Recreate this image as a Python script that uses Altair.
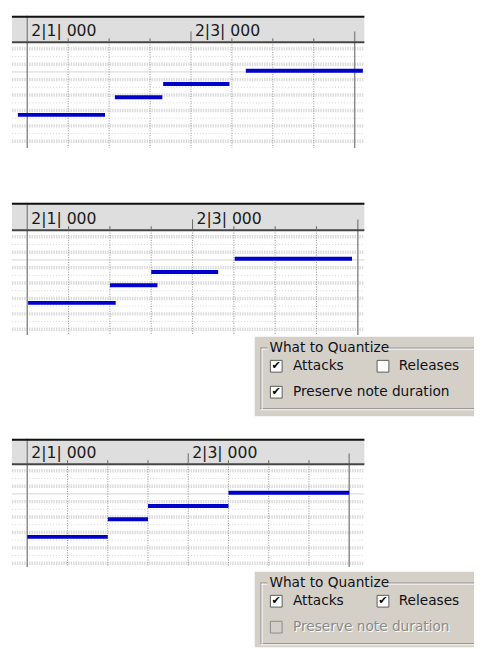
import altair as alt
import pandas as pd

# ---------------- data ----------------
ruler_labels = ["2|1| 000", "2|3| 000"]
ruler_label_at = [0, 4]                  # positions in eighth notes
dotted_grid = [1, 2, 3, 4, 5, 6, 7]
short_ticks = [1, 2, 3, 5, 6, 7]
long_ticks = [4]
note_pitch = [56, 60, 63, 66]
orig_start = [-0.23, 2.14, 3.32, 5.34]
orig_end = [1.90, 3.30, 4.94, 8.20]
attk_start = [0.02, 2.00, 3.00, 5.02]
attk_end = [2.14, 3.15, 4.62, 7.86]
both_start = [0.00, 2.00, 3.00, 5.00]
both_end = [2.00, 3.00, 5.00, 8.00]
black_key_rows = [71, 67.5, 64, 60.5, 57, 53.5, 50]
row_separators = [69.25, 62.25, 58.75, 55.25, 51.75]
octave_line = [65.75]
dialog_title = ["What to Quantize"]
option_labels = ["Attacks", "Releases", "Preserve note duration"]
dlg2_checked = [True, False, True]
dlg2_enabled = [True, True, True]
dlg3_checked = [True, True, False]
dlg3_enabled = [True, True, False]

# ---------------- layout / style ----------------
FONT = "DejaVu Sans"
PW = 360
SEMI = 4.5
BG = "#d4d0c8"
DW = 472
FS = 14
one = pd.DataFrame({"k": [0]})


def panel(starts, ends, x0, unit, top, head_h, grid_h):
    H = top + head_h + grid_h
    yh = top + head_h
    xsc = alt.Scale(domain=[-x0 / unit, (PW - x0) / unit], range=[0, PW])
    ysc = alt.Scale(domain=[72.5 - grid_h / SEMI, 72.5], range=[H, yh])

    def X(f):
        return alt.X(f, type="quantitative", scale=xsc, axis=None)

    def Y(f):
        return alt.Y(f, type="quantitative", scale=ysc, axis=None)

    L = []
    L.append(alt.Chart(one).mark_rect(color="#dedede").encode(
        x=alt.value(0), x2=alt.value(PW), y=alt.value(top), y2=alt.value(yh)))
    L.append(alt.Chart(pd.DataFrame({"p": black_key_rows})).mark_rule(
        color="#dcdcdc", strokeWidth=3.5, strokeDash=[1.5, 1]).encode(
        y=Y("p"), x=alt.value(0), x2=alt.value(PW)))
    L.append(alt.Chart(pd.DataFrame({"p": row_separators})).mark_rule(
        color="#d6d6d6", strokeWidth=1, strokeDash=[1, 2]).encode(
        y=Y("p"), x=alt.value(0), x2=alt.value(PW)))
    L.append(alt.Chart(pd.DataFrame({"p": octave_line})).mark_rule(
        color="#d4d4d4", strokeWidth=1).encode(
        y=Y("p"), x=alt.value(0), x2=alt.value(PW)))
    L.append(alt.Chart(pd.DataFrame({"g": dotted_grid})).mark_rule(
        color="#909090", strokeWidth=1, strokeDash=[1, 1.5]).encode(
        x=X("g"), y=alt.value(yh), y2=alt.value(H)))
    L.append(alt.Chart(pd.DataFrame({"g": [0]})).mark_rule(
        color="#8c8c8c", strokeWidth=1.5).encode(
        x=X("g"), y=alt.value(top), y2=alt.value(H)))
    L.append(alt.Chart(pd.DataFrame({"g": [8]})).mark_rule(
        color="#8c8c8c", strokeWidth=1.5).encode(
        x=X("g"), y=alt.value(yh - 11), y2=alt.value(H)))
    L.append(alt.Chart(one).mark_rule(color="#111111", strokeWidth=2).encode(
        x=alt.value(0), x2=alt.value(PW), y=alt.value(top + 1)))
    L.append(alt.Chart(one).mark_rule(color="#444444", strokeWidth=2).encode(
        x=alt.value(0), x2=alt.value(PW), y=alt.value(yh)))
    L.append(alt.Chart(pd.DataFrame({"t": short_ticks})).mark_rule(
        color="#666666", strokeWidth=1).encode(
        x=X("t"), y=alt.value(yh - 4), y2=alt.value(yh)))
    L.append(alt.Chart(pd.DataFrame({"t": long_ticks})).mark_rule(
        color="#666666", strokeWidth=1).encode(
        x=X("t"), y=alt.value(yh - 11), y2=alt.value(yh)))
    L.append(alt.Chart(pd.DataFrame({"at": ruler_label_at, "lab": ruler_labels})).mark_text(
        align="left", baseline="alphabetic", dx=4, font=FONT, fontSize=16,
        color="#1a1a1a").encode(
        x=X("at"), y=alt.value(yh - 6), text="lab:N"))
    L.append(alt.Chart(pd.DataFrame({"s": starts, "e": ends, "p": note_pitch})).mark_rule(
        color="#0000cc", strokeWidth=4, strokeCap="butt").encode(
        x=X("s"), x2=alt.X2("e"), y=Y("p")))
    return alt.layer(*L).properties(width=PW, height=H)


def dialog(checked, enabled, bt, H):
    bb = min(bt + 81, H)
    ft, fb, fl = bt + 11, bt + 74, 254
    r1, r2 = bt + 30, bt + 56.5
    cx = [264, 373, 264]
    cy = [r1, r1, r2]
    tx = [287, 395, 287]
    tab = pd.DataFrame({
        "label": option_labels, "checked": checked, "enabled": enabled,
        "x0": cx, "x1": [c + 12 for c in cx],
        "y0": [c - 6 for c in cy], "y1": [c + 6 for c in cy],
        "cxm": [c + 6 for c in cx], "cy": cy, "tx": tx,
    })
    xs = alt.Scale(domain=[0, DW], range=[0, DW])
    ys = alt.Scale(domain=[0, H], range=[0, H])

    def X(f):
        return alt.X(f, type="quantitative", scale=xs, axis=None)

    def Y(f):
        return alt.Y(f, type="quantitative", scale=ys, axis=None)

    L = []
    L.append(alt.Chart(one).mark_rect(color=BG).encode(
        x=alt.value(248), x2=alt.value(DW), y=alt.value(bt), y2=alt.value(bb)))
    # etched frame
    for off, col in [(0, "#808080"), (1, "#ffffff")]:
        L.append(alt.Chart(one).mark_rule(color=col, strokeWidth=1).encode(
            x=alt.value(fl + off), x2=alt.value(DW), y=alt.value(ft + off + 0.5)))
        L.append(alt.Chart(one).mark_rule(color=col, strokeWidth=1).encode(
            x=alt.value(fl + off + 0.5), y=alt.value(ft + off), y2=alt.value(fb)))
        L.append(alt.Chart(one).mark_rule(color=col, strokeWidth=1).encode(
            x=alt.value(fl), x2=alt.value(DW), y=alt.value(fb + off - 0.5)))
    L.append(alt.Chart(one).mark_rect(color=BG).encode(
        x=alt.value(261), x2=alt.value(384), y=alt.value(ft - 7), y2=alt.value(ft + 7)))
    L.append(alt.Chart(pd.DataFrame({"t": dialog_title})).mark_text(
        align="left", baseline="middle", font=FONT, fontSize=FS, color="#101018").encode(
        x=alt.value(263), y=alt.value(ft), text="t:N"))
    on = tab[tab["enabled"]]
    off = tab[~tab["enabled"]]
    if len(on):
        L.append(alt.Chart(on).mark_rect(fill="#ffffff", stroke="#5a5a5a", strokeWidth=1).encode(
            x=X("x0"), x2=alt.X2("x1"), y=Y("y0"), y2=alt.Y2("y1")))
        L.append(alt.Chart(on).mark_text(
            align="left", baseline="middle", font=FONT, fontSize=FS, color="#101018").encode(
            x=X("tx"), y=Y("cy"), text="label:N"))
    if len(off):
        L.append(alt.Chart(off).mark_rect(fill=BG, stroke="#8a8a8a", strokeWidth=1).encode(
            x=X("x0"), x2=alt.X2("x1"), y=Y("y0"), y2=alt.Y2("y1")))
        L.append(alt.Chart(off).mark_text(
            align="left", baseline="middle", font=FONT, fontSize=FS, color="#ffffff",
            dx=1, dy=1).encode(x=X("tx"), y=Y("cy"), text="label:N"))
        L.append(alt.Chart(off).mark_text(
            align="left", baseline="middle", font=FONT, fontSize=FS, color="#8a8a8a").encode(
            x=X("tx"), y=Y("cy"), text="label:N"))
    chk = tab[tab["checked"]]
    if len(chk):
        L.append(alt.Chart(chk).mark_text(
            align="center", baseline="middle", font=FONT, fontSize=11.5, color="#000000",
            fontWeight="bold").encode(
            x=X("cxm"), y=Y("cy"), text=alt.value("\u2714")))
    return alt.layer(*L).properties(width=DW, height=H)


p1 = panel(orig_start, orig_end, 15.7, 41.8, 0, 27, 108)
p2 = panel(attk_start, attk_end, 15.7, 42.2, 55, 28, 107)
d2 = dialog(dlg2_checked, dlg2_enabled, 1, 104)
p3 = panel(both_start, both_end, 15.7, 41.1, 0, 26, 105)
d3 = dialog(dlg3_checked, dlg3_enabled, 4, 81)

chart = alt.vconcat(p1, p2, d2, p3, d3, spacing=0).properties(
    padding={"left": 2, "top": 0, "right": 0, "bottom": 0},
    background="#ffffff",
).configure_view(stroke=None)

chart.save("out.html", embed_options={"renderer": "svg", "actions": False})
